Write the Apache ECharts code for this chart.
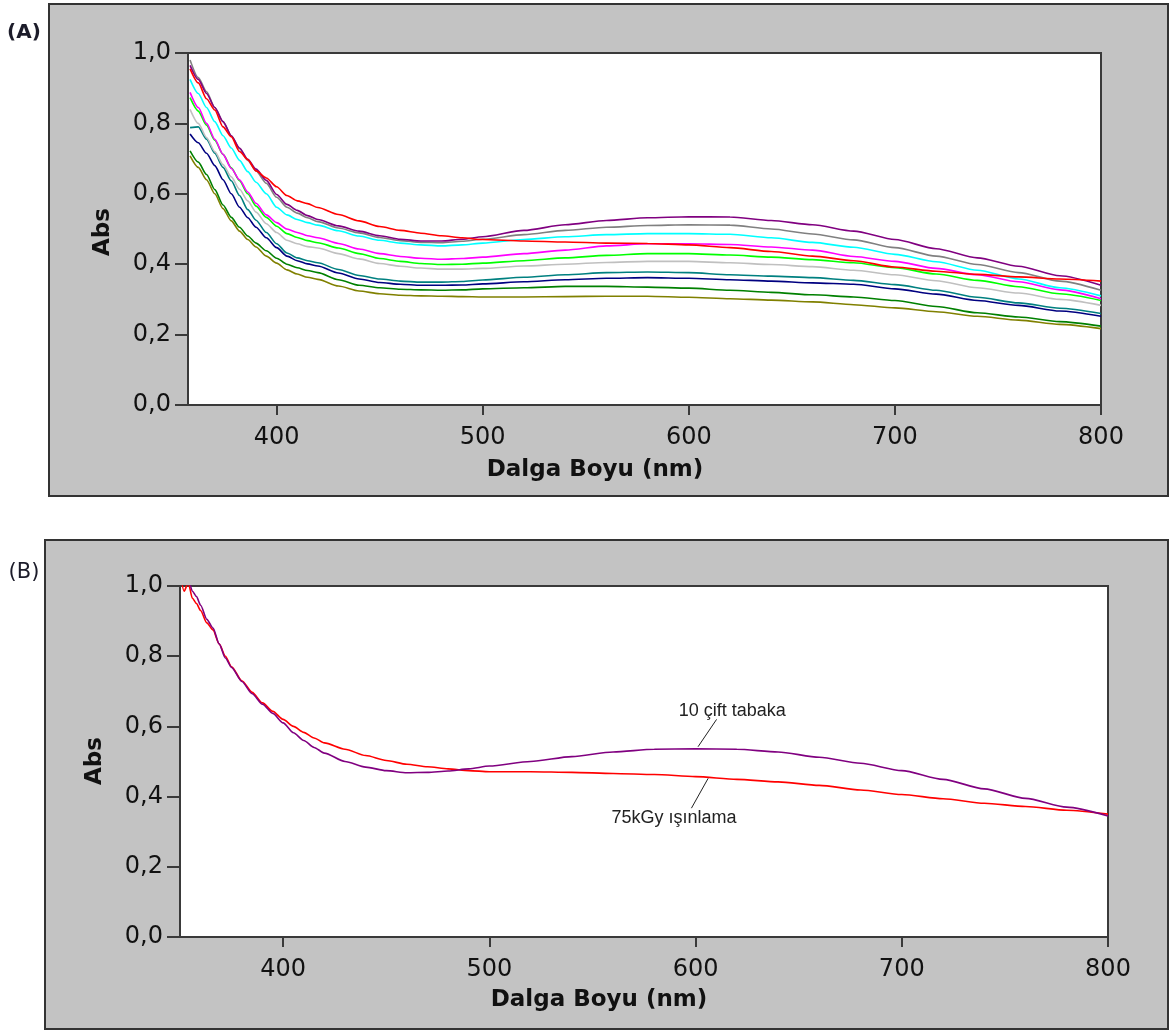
<!DOCTYPE html>
<html>
<head>
<meta charset="utf-8">
<script src="https://cdn.jsdelivr.net/npm/echarts@6/dist/echarts.min.js"></script>
<style>
  html, body { margin: 0; padding: 0; background: #fff; }
  #chart { width: 1170px; height: 1033px; }
</style>
</head>
<body>
<div id="chart"></div>
<script>
// ---------- Panel (A): eleven absorption spectra ----------
const wavelengthsA = [358, 362, 366, 370, 374, 378, 382, 386, 390,
  395, 400, 405, 410, 415, 420,
  430, 440, 450, 460, 470, 480, 490, 500,
  520, 540, 560, 580, 600, 620, 640, 660, 680, 700, 720, 740, 760, 780, 800];

const absRed = [0.955, 0.915, 0.870, 0.838, 0.790, 0.762, 0.720, 0.697, 0.665,
  0.645, 0.620, 0.595, 0.580, 0.572, 0.561,
  0.541, 0.523, 0.507, 0.496, 0.488, 0.481, 0.475, 0.470,
  0.466, 0.463, 0.460, 0.459, 0.455, 0.447, 0.436, 0.423, 0.410, 0.392, 0.380, 0.371, 0.364, 0.358, 0.352];
const absPurple = [0.965, 0.925, 0.885, 0.845, 0.805, 0.765, 0.730, 0.698, 0.670,
  0.638, 0.598, 0.570, 0.553, 0.538, 0.527,
  0.509, 0.494, 0.481, 0.471, 0.466, 0.466, 0.471, 0.478,
  0.496, 0.512, 0.524, 0.532, 0.535, 0.534, 0.524, 0.512, 0.494, 0.470, 0.444, 0.418, 0.394, 0.367, 0.340];
const absGray = [0.980, 0.930, 0.890, 0.845, 0.805, 0.765, 0.728, 0.695, 0.665,
  0.630, 0.590, 0.562, 0.545, 0.532, 0.521,
  0.503, 0.489, 0.476, 0.467, 0.462, 0.461, 0.465, 0.471,
  0.484, 0.496, 0.505, 0.510, 0.512, 0.511, 0.500, 0.486, 0.469, 0.447, 0.423, 0.399, 0.376, 0.352, 0.326];
const absCyan = [0.925, 0.885, 0.845, 0.805, 0.765, 0.730, 0.695, 0.663, 0.633,
  0.600, 0.562, 0.540, 0.527, 0.518, 0.511,
  0.495, 0.480, 0.468, 0.460, 0.455, 0.452, 0.455, 0.460,
  0.470, 0.478, 0.484, 0.487, 0.487, 0.485, 0.475, 0.462, 0.448, 0.428, 0.407, 0.383, 0.358, 0.333, 0.310];
const absMagenta = [0.888, 0.845, 0.800, 0.755, 0.712, 0.672, 0.640, 0.605, 0.573,
  0.540, 0.518, 0.500, 0.490, 0.481, 0.475,
  0.459, 0.443, 0.430, 0.422, 0.417, 0.414, 0.416, 0.420,
  0.430, 0.440, 0.452, 0.458, 0.458, 0.456, 0.449, 0.440, 0.422, 0.408, 0.388, 0.370, 0.350, 0.327, 0.302];
const absLime = [0.873, 0.835, 0.795, 0.752, 0.712, 0.674, 0.637, 0.600, 0.565,
  0.533, 0.508, 0.487, 0.476, 0.467, 0.461,
  0.446, 0.430, 0.416, 0.408, 0.402, 0.399, 0.400, 0.403,
  0.410, 0.418, 0.425, 0.430, 0.430, 0.426, 0.420, 0.413, 0.404, 0.390, 0.372, 0.354, 0.336, 0.316, 0.297];
const absSilver = [0.840, 0.800, 0.760, 0.720, 0.683, 0.648, 0.613, 0.580, 0.548,
  0.515, 0.490, 0.468, 0.458, 0.450, 0.446,
  0.430, 0.415, 0.402, 0.394, 0.389, 0.386, 0.386, 0.388,
  0.395, 0.400, 0.405, 0.408, 0.408, 0.404, 0.399, 0.393, 0.383, 0.370, 0.353, 0.333, 0.318, 0.300, 0.283];
const absTeal = [0.788, 0.790, 0.755, 0.715, 0.675, 0.637, 0.595, 0.555, 0.525,
  0.490, 0.458, 0.432, 0.418, 0.410, 0.404,
  0.385, 0.368, 0.358, 0.352, 0.349, 0.349, 0.351, 0.355,
  0.363, 0.370, 0.376, 0.378, 0.376, 0.370, 0.366, 0.362, 0.354, 0.342, 0.326, 0.306, 0.290, 0.275, 0.260];
const absNavy = [0.770, 0.745, 0.715, 0.680, 0.640, 0.600, 0.562, 0.532, 0.505,
  0.475, 0.447, 0.423, 0.410, 0.401, 0.395,
  0.375, 0.358, 0.348, 0.343, 0.340, 0.340, 0.341, 0.344,
  0.350, 0.356, 0.360, 0.362, 0.360, 0.356, 0.352, 0.347, 0.343, 0.330, 0.315, 0.297, 0.283, 0.267, 0.252];
const absGreen = [0.722, 0.690, 0.655, 0.612, 0.568, 0.533, 0.505, 0.480, 0.460,
  0.438, 0.417, 0.400, 0.390, 0.382, 0.376,
  0.356, 0.340, 0.333, 0.329, 0.327, 0.326, 0.327, 0.330,
  0.333, 0.337, 0.337, 0.335, 0.332, 0.326, 0.320, 0.313, 0.307, 0.297, 0.280, 0.262, 0.250, 0.237, 0.224];
const absOlive = [0.708, 0.675, 0.640, 0.600, 0.558, 0.523, 0.494, 0.470, 0.449,
  0.423, 0.403, 0.384, 0.372, 0.363, 0.357,
  0.338, 0.324, 0.316, 0.312, 0.310, 0.309, 0.308, 0.307,
  0.307, 0.308, 0.309, 0.309, 0.306, 0.302, 0.298, 0.293, 0.285, 0.276, 0.265, 0.252, 0.241, 0.229, 0.217];

// ---------- Panel (B): 10 bilayers vs. 75 kGy irradiated ----------
const wavelengthsB = [350, 352, 354, 356, 358, 360, 363, 366, 369, 372, 375,
  380, 385, 390, 395, 400, 405, 410, 415, 420,
  430, 440, 450, 460, 470, 480, 490, 500,
  520, 540, 560, 580, 600, 620, 640, 660, 680, 700, 720, 740, 760, 780, 800];
const absBilayer = [1.080, 1.050, 1.020, 0.985, 0.970, 0.945, 0.905, 0.880, 0.835, 0.795, 0.768,
  0.728, 0.693, 0.663, 0.637, 0.610, 0.582, 0.560, 0.540, 0.524,
  0.500, 0.484, 0.474, 0.468, 0.469, 0.473, 0.479, 0.487,
  0.500, 0.514, 0.527, 0.535, 0.536, 0.535, 0.527, 0.512, 0.495, 0.474, 0.449, 0.422, 0.395, 0.370, 0.345];
const absIrradiated = [1.040, 0.985, 1.010, 0.965, 0.950, 0.930, 0.895, 0.875, 0.835, 0.800, 0.770,
  0.730, 0.697, 0.667, 0.643, 0.620, 0.600, 0.583, 0.567, 0.553,
  0.535, 0.517, 0.503, 0.492, 0.485, 0.479, 0.474, 0.471,
  0.471, 0.469, 0.466, 0.463, 0.457, 0.449, 0.442, 0.432, 0.419, 0.406, 0.394, 0.381, 0.372, 0.361, 0.350];

// Axis ticks and annotation text
const xTickValues = [400, 500, 600, 700, 800];
const yTickStep = 0.2;
const labelBilayer = '10 çift tabaka';
const labelIrradiated = '75kGy ışınlama';
const axisTitleX = 'Dalga Boyu (nm)';
const axisTitleY = 'Abs';

const seriesA = [
  { name: 'olive', data: absOlive, color: '#808000' },
  { name: 'green', data: absGreen, color: '#008000' },
  { name: 'navy', data: absNavy, color: '#000080' },
  { name: 'teal', data: absTeal, color: '#008080' },
  { name: 'silver', data: absSilver, color: '#c0c0c0' },
  { name: 'lime', data: absLime, color: '#00ff00' },
  { name: 'magenta', data: absMagenta, color: '#ff00ff' },
  { name: 'cyan', data: absCyan, color: '#00ffff' },
  { name: 'gray', data: absGray, color: '#808080' },
  { name: 'purple', data: absPurple, color: '#800080' },
  { name: 'red', data: absRed, color: '#ff0000' }
];

const FRAME = '#3a3a3a';
const TICK_FONT = 'DejaVu Sans';

function pairs(xs, ys) { return xs.map((x, i) => [x, ys[i]]); }

function lineSeries(name, xs, ys, color, axisIdx, extra) {
  return Object.assign({
    type: 'line', name: name,
    xAxisIndex: axisIdx, yAxisIndex: axisIdx,
    data: pairs(xs, ys),
    showSymbol: false, symbol: 'none',
    smooth: 0.25, smoothMonotone: 'x',
    clip: true,
    lineStyle: { color: color, width: 1.6 },
    itemStyle: { color: color },
    emphasis: { disabled: true },
    silent: true
  }, extra || {});
}

function xAxisCfg(idx, min) {
  return {
    type: 'value', gridIndex: idx, min: min, max: 800,
    axisLine: { show: true, onZero: false, lineStyle: { color: FRAME, width: 2 } },
    axisTick: { show: true, inside: false, length: 10, customValues: xTickValues,
      lineStyle: { color: FRAME, width: 2 } },
    axisLabel: { show: true, customValues: xTickValues, margin: 21,
      fontFamily: TICK_FONT, fontSize: 24, color: '#111' },
    splitLine: { show: false }
  };
}

function yAxisCfg(idx) {
  return {
    type: 'value', gridIndex: idx, min: 0, max: 1, interval: yTickStep,
    axisLine: { show: true, lineStyle: { color: FRAME, width: 2 } },
    axisTick: { show: true, inside: false, length: 13, lineStyle: { color: FRAME, width: 2 } },
    axisLabel: { show: true, margin: 17, fontFamily: TICK_FONT, fontSize: 24, color: '#111',
      formatter: v => v.toFixed(1).replace('.', ',') },
    splitLine: { show: false }
  };
}

const gridStyle = { show: true, backgroundColor: '#ffffff', borderColor: FRAME, borderWidth: 2, containLabel: false };

const series = [];
seriesA.forEach(s => series.push(lineSeries(s.name, wavelengthsA, s.data, s.color, 0)));

series.push(lineSeries('75kGy', wavelengthsB, absIrradiated, '#ff0000', 1, {
  markLine: {
    silent: true, symbol: ['none', 'none'],
    lineStyle: { color: '#222', width: 1, type: 'solid' },
    label: { show: false },
    data: [[{ coord: [606.1, 0.452] }, { coord: [598.0, 0.367] }]]
  },
  markPoint: {
    silent: true, symbol: 'circle', symbolSize: 0,
    label: { show: true, position: 'inside', formatter: labelIrradiated,
      fontFamily: 'Liberation Sans', fontSize: 18, color: '#222' },
    data: [{ coord: [589.5, 0.340] }]
  }
}));
series.push(lineSeries('10 bilayer', wavelengthsB, absBilayer, '#800080', 1, {
  markLine: {
    silent: true, symbol: ['none', 'none'],
    lineStyle: { color: '#222', width: 1, type: 'solid' },
    label: { show: false },
    data: [[{ coord: [610.2, 0.620] }, { coord: [601.2, 0.542] }]]
  },
  markPoint: {
    silent: true, symbol: 'circle', symbolSize: 0,
    label: { show: true, position: 'inside', formatter: labelBilayer,
      fontFamily: 'Liberation Sans', fontSize: 18, color: '#222' },
    data: [{ coord: [617.8, 0.644] }]
  }
}));

const titleFont = { fontFamily: 'DejaVu Sans', fontWeight: 'bold', fontSize: 23, fill: '#111' };

const option = {
  animation: false,
  backgroundColor: '#ffffff',
  grid: [
    Object.assign({ left: 188, top: 53, width: 913, height: 352 }, gridStyle),
    Object.assign({ left: 180, top: 586, width: 928, height: 351 }, gridStyle)
  ],
  xAxis: [xAxisCfg(0, 357), xAxisCfg(1, 350)],
  yAxis: [yAxisCfg(0), yAxisCfg(1)],
  graphic: [
    { type: 'rect', z: -10, silent: true,
      shape: { x: 49, y: 4, width: 1119, height: 492 },
      style: { fill: '#c3c3c3', stroke: '#333', lineWidth: 2 } },
    { type: 'rect', z: -10, silent: true,
      shape: { x: 45, y: 540, width: 1123, height: 489 },
      style: { fill: '#c3c3c3', stroke: '#333', lineWidth: 2 } },
    { type: 'text', z: 100, x: 24, y: 33,
      style: { text: '(A)', fontFamily: 'DejaVu Sans', fontWeight: 'bold', fontSize: 20, fill: '#1c1c2a',
        textAlign: 'center', textVerticalAlign: 'middle' } },
    { type: 'text', z: 100, x: 24, y: 573,
      style: { text: '(B)', fontFamily: 'DejaVu Sans', fontSize: 21, fill: '#1c1c2a',
        textAlign: 'center', textVerticalAlign: 'middle' } },
    { type: 'text', z: 100, x: 595, y: 470,
      style: Object.assign({ text: axisTitleX, textAlign: 'center', textVerticalAlign: 'middle' }, titleFont) },
    { type: 'text', z: 100, x: 599, y: 1000,
      style: Object.assign({ text: axisTitleX, textAlign: 'center', textVerticalAlign: 'middle' }, titleFont) },
    { type: 'text', z: 100, x: 103, y: 232, rotation: Math.PI / 2,
      style: Object.assign({ text: axisTitleY, textAlign: 'center', textVerticalAlign: 'middle' }, titleFont) },
    { type: 'text', z: 100, x: 95, y: 761, rotation: Math.PI / 2,
      style: Object.assign({ text: axisTitleY, textAlign: 'center', textVerticalAlign: 'middle' }, titleFont) }
  ],
  series: series
};

const chart = echarts.init(document.getElementById('chart'), null, { renderer: 'canvas' });
chart.setOption(option);
</script>
</body>
</html>
